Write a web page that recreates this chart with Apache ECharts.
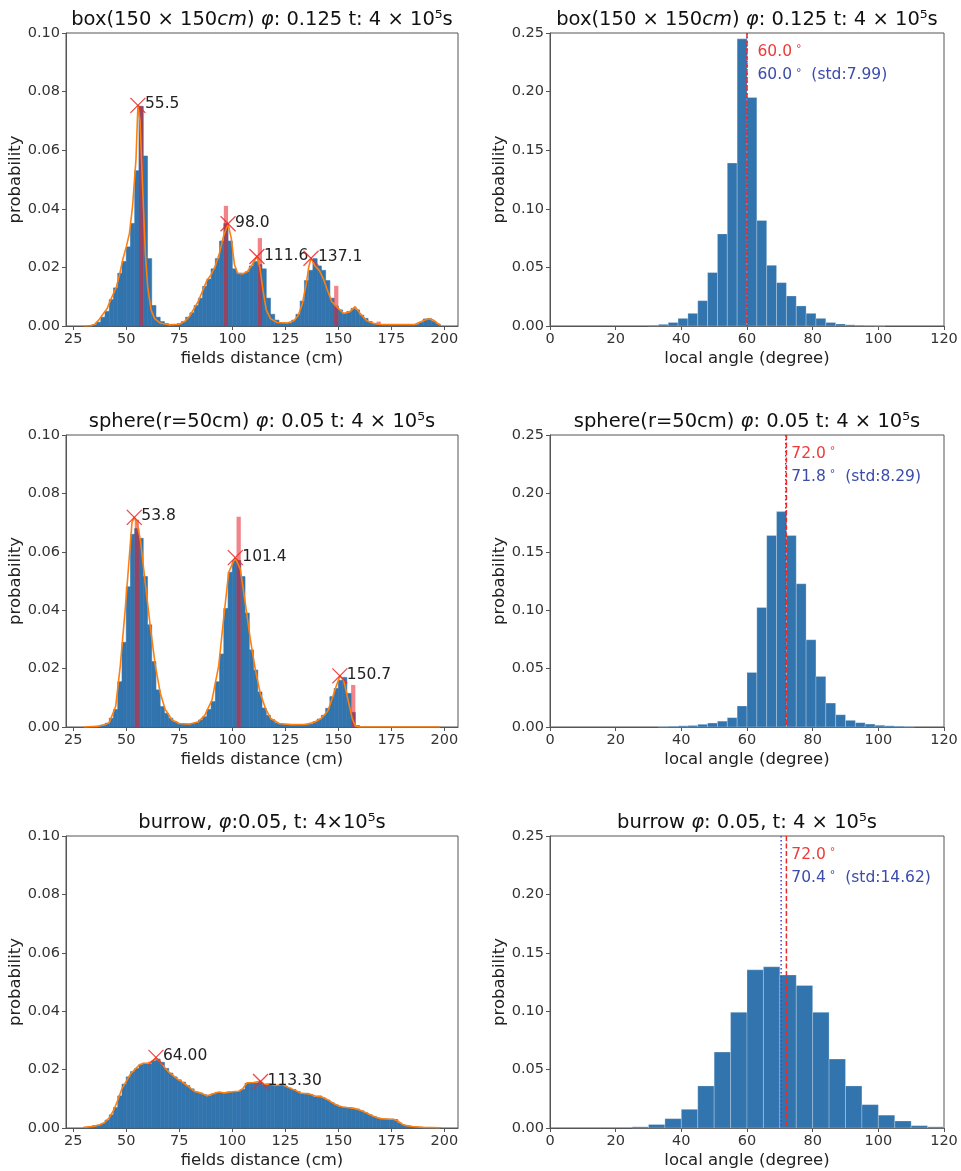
<!DOCTYPE html>
<html>
<head>
<meta charset="utf-8">
<script src="https://cdn.jsdelivr.net/npm/echarts@6/dist/echarts.min.js"></script>
<style>
html, body { margin: 0; padding: 0; background: #fff; }
#chart { width: 961px; height: 1171px; }
</style>
</head>
<body>
<div id="chart"></div>
<script>
// ---------- fields distance histograms (bins of 2 cm starting at 30 cm) ----------
const distBinStart = 30;
const distBinWidth = 2;
const distTicks = [25, 50, 75, 100, 125, 150, 175, 200];

const boxDistProb = [
  0, 0.0001, 0.0004, 0.0013, 0.003, 0.005, 0.009, 0.013, 0.018, 0.022,
  0.027, 0.035, 0.053, 0.075, 0.058, 0.023, 0.007, 0.003, 0.0015, 0.0008,
  0.0005, 0.0005, 0.0008, 0.0015, 0.003, 0.0045, 0.007, 0.0095, 0.0135, 0.016,
  0.0195, 0.023, 0.029, 0.035, 0.029, 0.0195, 0.018, 0.018, 0.0185, 0.0205,
  0.022, 0.021, 0.0195, 0.0095, 0.004, 0.002, 0.001, 0.001, 0.001, 0.002,
  0.004, 0.0085, 0.0155, 0.019, 0.023, 0.0205, 0.019, 0.0155, 0.0095, 0.0068,
  0.0055, 0.0043, 0.005, 0.006, 0.0055, 0.0037, 0.0026, 0.0015, 0.0008, 0.0005,
  0.0004, 0.0004, 0.0004, 0.0004, 0.0004, 0.0004, 0.0004, 0.0004, 0.0005, 0.0012,
  0.0024, 0.0025, 0.0016, 0.0007
];
const boxDistCurve = [
  [30, 0], [33, 0.0001], [35, 0.0005], [37, 0.002], [39, 0.004], [41, 0.006], [43, 0.0095],
  [45.4, 0.0134], [47, 0.018], [48.3, 0.0225], [50, 0.027], [51.5, 0.0316], [53, 0.041],
  [54.6, 0.057], [55.5, 0.0753], [56.5, 0.07], [57.7, 0.0475], [59, 0.0248], [60.1, 0.0134],
  [61.7, 0.0055], [63.3, 0.0026], [66, 0.001], [70, 0.0004], [75, 0.0006], [78, 0.0018],
  [80, 0.0035], [82, 0.006], [84, 0.0085], [86, 0.012], [88, 0.0155], [90, 0.0175],
  [92, 0.0205], [94, 0.025], [96, 0.031], [98, 0.0349], [99.5, 0.03], [101, 0.021],
  [102.5, 0.018], [105, 0.0178], [107, 0.0185], [109, 0.0205], [111.6, 0.0237], [113, 0.02],
  [114.5, 0.012], [116, 0.0055], [118, 0.0025], [121, 0.0012], [126, 0.001], [129, 0.0018],
  [131, 0.0035], [133, 0.0075], [135, 0.015], [136, 0.02], [137.1, 0.0231], [139, 0.0205],
  [141, 0.019], [143, 0.016], [144.5, 0.0129], [146.9, 0.0083], [149.2, 0.0066],
  [152.4, 0.0043], [155.5, 0.0049], [157.9, 0.0066], [160.2, 0.0043], [163.4, 0.0018],
  [166.5, 0.0009], [170, 0.0005], [186, 0.0005], [190, 0.0018], [192.4, 0.0025],
  [194.8, 0.002], [197.1, 0.0007], [198, 0.0003]
];
const boxPeakX = [55.5, 98.0, 111.6, 137.1];
const boxPeakY = [0.0753, 0.0349, 0.0237, 0.0231];
const boxPeakBinX = [57, 97, 113, 149, 169];
const boxPeakBinProb = [0.075, 0.041, 0.030, 0.0137, 0.0015];

const sphereDistProb = [
  0, 0, 0.0001, 0.0003, 0.0007, 0.0013, 0.003, 0.006, 0.0155, 0.029,
  0.048, 0.066, 0.068, 0.0646, 0.0515, 0.035, 0.0224, 0.0127, 0.007, 0.0047,
  0.003, 0.0018, 0.0012, 0.001, 0.001, 0.0012, 0.0015, 0.0024, 0.0035, 0.006,
  0.0087, 0.0155, 0.025, 0.0406, 0.053, 0.057, 0.057, 0.0515, 0.039, 0.0264,
  0.0195, 0.012, 0.0065, 0.004, 0.0025, 0.0014, 0.001, 0.0008, 0.0008, 0.0008,
  0.0008, 0.0008, 0.001, 0.001, 0.0018, 0.0027, 0.004, 0.0064, 0.0104, 0.0132,
  0.016, 0.017, 0.0115, 0.005, 0.0005, 0, 0, 0, 0, 0,
  0, 0, 0, 0, 0, 0, 0, 0, 0, 0,
  0, 0, 0, 0
];
const sphereDistCurve = [
  [30, 0], [36, 0.0002], [40, 0.0008], [42, 0.0015], [45, 0.007], [47.2, 0.021],
  [49.6, 0.041], [51.2, 0.056], [52.7, 0.07], [53.8, 0.0718], [55, 0.07], [56.7, 0.064],
  [59, 0.049], [61.4, 0.034], [63.7, 0.021], [66.1, 0.0115], [68.4, 0.006], [71.6, 0.0024],
  [75, 0.0012], [80, 0.001], [84, 0.0018], [87, 0.004], [90.4, 0.0092], [93.6, 0.021],
  [95.9, 0.037], [98.3, 0.053], [100.7, 0.057], [101.4, 0.058], [103.8, 0.054],
  [106.2, 0.042], [108.5, 0.03], [110.9, 0.0195], [113.2, 0.0115], [115.6, 0.0064],
  [118, 0.003], [122, 0.0012], [128, 0.0008], [135, 0.0009], [139, 0.0017], [142, 0.003],
  [145, 0.0055], [147, 0.0095], [149, 0.014], [150.7, 0.0175], [152.5, 0.016],
  [154.5, 0.0095], [156.5, 0.003], [158, 0.0003], [160, 0], [198, 0]
];
const spherePeakX = [53.8, 101.4, 150.7];
const spherePeakY = [0.0718, 0.058, 0.0175];
const spherePeakBinX = [55, 103, 157];
const spherePeakBinProb = [0.071, 0.072, 0.0144];

const burrowDistProb = [
  0.0002, 0.0005, 0.0008, 0.001, 0.0015, 0.0027, 0.0045, 0.007, 0.011, 0.015,
  0.0175, 0.0193, 0.0204, 0.0218, 0.0221, 0.0219, 0.023, 0.0236, 0.0225, 0.0204,
  0.0188, 0.0175, 0.0165, 0.0157, 0.0145, 0.0134, 0.0123, 0.012, 0.0114, 0.011,
  0.0117, 0.0122, 0.0121, 0.0119, 0.0123, 0.0124, 0.0125, 0.0132, 0.0153, 0.0155,
  0.0154, 0.0156, 0.0148, 0.015, 0.0147, 0.0145, 0.015, 0.0143, 0.0137, 0.0132,
  0.0125, 0.0117, 0.0119, 0.0115, 0.0107, 0.011, 0.0103, 0.0096, 0.0087, 0.0079,
  0.0073, 0.0071, 0.007, 0.0068, 0.0065, 0.0059, 0.0052, 0.0045, 0.0039, 0.0034,
  0.0031, 0.0031, 0.003, 0.0029, 0.0017, 0.001, 0.0007, 0.0005, 0.0003, 0.0002,
  0.0001, 0.0001, 0.0001, 0.0001
];
const burrowDistCurve = [
  [30, 0.0002], [35, 0.0006], [38, 0.0012], [40, 0.002], [42, 0.0035], [44, 0.006],
  [46, 0.0095], [48, 0.0135], [50, 0.016], [52, 0.0185], [54, 0.02], [56, 0.0215],
  [58, 0.0222], [60, 0.0222], [62, 0.0228], [64, 0.0238], [66, 0.0228], [68, 0.0208],
  [70, 0.0192], [72, 0.018], [74, 0.0168], [76, 0.016], [78, 0.0149], [80, 0.0138],
  [82, 0.0126], [84, 0.0122], [86, 0.0117], [88, 0.011], [90, 0.0115], [92, 0.012],
  [94, 0.0123], [96, 0.012], [98, 0.0123], [100, 0.0124], [103, 0.0126], [105, 0.0135],
  [107, 0.0155], [110, 0.0156], [113.3, 0.016], [115, 0.015], [118, 0.0151], [120, 0.0146],
  [122, 0.0147], [124, 0.0149], [126, 0.014], [128, 0.0134], [130, 0.0128], [132, 0.012],
  [134, 0.0118], [136, 0.0117], [138, 0.0112], [140, 0.0108], [142, 0.0107], [144, 0.01],
  [146, 0.0092], [148, 0.0083], [150, 0.0076], [152, 0.0072], [154, 0.007], [156, 0.0069],
  [158, 0.0066], [160, 0.0062], [162, 0.0056], [164, 0.0049], [166, 0.0042], [168, 0.0036],
  [170, 0.0032], [172, 0.0031], [174, 0.003], [176, 0.003], [178, 0.0024], [180, 0.0013],
  [182, 0.0008], [185, 0.0005], [190, 0.0002], [198, 0.0001]
];
const burrowPeakX = [64.0, 113.3];
const burrowPeakY = [0.0242, 0.0159];

// ---------- local angle histograms ----------
const boxAngleBinWidth = 3;
const boxAngleProb = [
  0, 0, 0, 0, 0, 0, 0, 0, 0, 0,
  0.0006, 0.0014, 0.003, 0.0065, 0.0108, 0.0216, 0.0456, 0.0786, 0.139, 0.245,
  0.195, 0.090, 0.0518, 0.037, 0.0256, 0.0171, 0.0108, 0.0065, 0.003, 0.0017,
  0.001, 0.0006, 0.0004, 0.0002, 0, 0, 0, 0, 0, 0
];
const boxAnglePeak = 60.0, boxAngleMean = 60.0, boxAngleStd = 7.99;

const sphereAngleBinWidth = 3;
const sphereAngleProb = [
  0, 0, 0, 0, 0, 0, 0, 0, 0, 0,
  0, 0.0003, 0.0006, 0.001, 0.0013, 0.0023, 0.0034, 0.005, 0.008, 0.018,
  0.0467, 0.1023, 0.164, 0.1844, 0.164, 0.1226, 0.0747, 0.0433, 0.0205, 0.0105,
  0.0057, 0.0037, 0.0025, 0.0015, 0.001, 0.0006, 0.0003, 0, 0, 0
];
const sphereAnglePeak = 72.0, sphereAngleMean = 71.8, sphereAngleStd = 8.29;

const burrowAngleBinWidth = 5;
const burrowAngleProb = [
  0, 0, 0, 0, 0, 0.001, 0.003, 0.008, 0.016, 0.036,
  0.065, 0.099, 0.1354, 0.138, 0.131, 0.122, 0.099, 0.059, 0.036, 0.020,
  0.011, 0.006, 0.002, 0.001
];
const burrowAnglePeak = 72.0, burrowAngleMean = 70.4, burrowAngleStd = 14.62;

// ---------- layout & style ----------
const FONT = 'DejaVu Sans';
const BLUE = '#3274ad';
const ORANGE = '#ff7f0e';
const RED_BAR = 'rgba(230, 30, 40, 0.55)';
const RED_MARK = 'rgba(236, 40, 40, 0.85)';
const RED_TEXT = '#ee3a3a';
const BLUE_TEXT = '#3b4cab';
const AXIS_COLOR = '#555';

const colX = [66, 550];
const colW = [392, 394];
const rowTop = [33, 435, 836];
const rowH = [293, 292, 292];
const titleY = [20, 422, 823];

const grids = [];
for (let r = 0; r < 3; r++) {
  for (let c = 0; c < 2; c++) {
    grids.push({
      left: colX[c], top: rowTop[r], width: colW[c], height: rowH[r],
      show: true, borderColor: AXIS_COLOR, borderWidth: 1, backgroundColor: 'transparent',
      containLabel: false
    });
  }
}

const tickLabelStyle = { fontFamily: FONT, fontSize: 14.5, color: '#333', margin: 6 };
const nameStyle = { fontFamily: FONT, fontSize: 16.5, color: '#222' };

function xAxisDist(gi) {
  return {
    gridIndex: gi, type: 'value', min: 21.6, max: 206.4,
    name: 'fields distance (cm)', nameLocation: 'middle', nameGap: 24, nameTextStyle: nameStyle,
    axisLine: { show: true, lineStyle: { color: AXIS_COLOR, width: 1 } },
    axisTick: { show: true, length: 4, lineStyle: { color: AXIS_COLOR }, customValues: distTicks },
    axisLabel: Object.assign({ customValues: distTicks }, tickLabelStyle),
    splitLine: { show: false }
  };
}
function xAxisAngle(gi) {
  return {
    gridIndex: gi, type: 'value', min: 0, max: 120, interval: 20,
    name: 'local angle (degree)', nameLocation: 'middle', nameGap: 24, nameTextStyle: nameStyle,
    axisLine: { show: true, lineStyle: { color: AXIS_COLOR, width: 1 } },
    axisTick: { show: true, length: 4, lineStyle: { color: AXIS_COLOR } },
    axisLabel: tickLabelStyle,
    splitLine: { show: false }
  };
}
function yAxisProb(gi, max, interval) {
  return {
    gridIndex: gi, type: 'value', min: 0, max: max, interval: interval,
    name: 'probability', nameLocation: 'middle', nameGap: 35, nameTextStyle: nameStyle,
    axisLine: { show: true, lineStyle: { color: AXIS_COLOR, width: 1 } },
    axisTick: { show: true, length: 4, lineStyle: { color: AXIS_COLOR } },
    axisLabel: Object.assign({ formatter: v => v.toFixed(2) }, tickLabelStyle),
    splitLine: { show: false }
  };
}

const xAxes = [], yAxes = [];
for (let r = 0; r < 3; r++) {
  xAxes.push(xAxisDist(r * 2));
  yAxes.push(yAxisProb(r * 2, 0.1, 0.02));
  xAxes.push(xAxisAngle(r * 2 + 1));
  yAxes.push(yAxisProb(r * 2 + 1, 0.25, 0.05));
}

// ---------- series builders ----------
function histData(start, width, probs) {
  return probs.map((p, i) => [start + i * width, start + (i + 1) * width, p]);
}
function rectRenderer(fill, stroke, lineWidth) {
  return function (params, api) {
    const y = api.value(2);
    if (!(y > 0)) return null;
    const a = api.coord([api.value(0), y]);
    const b = api.coord([api.value(1), 0]);
    const style = { fill: fill };
    if (stroke) { style.stroke = stroke; style.lineWidth = lineWidth; }
    return {
      type: 'rect',
      shape: { x: a[0], y: a[1], width: b[0] - a[0], height: b[1] - a[1] },
      style: style
    };
  };
}
function histSeries(gi, start, width, probs, fill, stroke, lineWidth, z) {
  return {
    type: 'custom', xAxisIndex: gi, yAxisIndex: gi, z: z, silent: true,
    encode: { x: [0, 1], y: 2 },
    renderItem: rectRenderer(fill, stroke, lineWidth),
    data: histData(start, width, probs)
  };
}
function curveSeries(gi, pts) {
  return {
    type: 'line', xAxisIndex: gi, yAxisIndex: gi, z: 4, silent: true,
    showSymbol: false, symbol: 'none', smooth: false,
    lineStyle: { color: ORANGE, width: 1.6 },
    data: pts
  };
}
function peakSeries(gi, xs, ys, digits) {
  const labels = xs.map(v => v.toFixed(digits));
  return {
    type: 'custom', xAxisIndex: gi, yAxisIndex: gi, z: 6, silent: true,
    encode: { x: 0, y: 1 },
    renderItem: function (params, api) {
      const p = api.coord([api.value(0), api.value(1)]);
      const s = 7.5;
      const st = { stroke: RED_MARK, lineWidth: 1.3 };
      return {
        type: 'group',
        children: [
          { type: 'line', shape: { x1: p[0] - s, y1: p[1] - s, x2: p[0] + s, y2: p[1] + s }, style: st },
          { type: 'line', shape: { x1: p[0] - s, y1: p[1] + s, x2: p[0] + s, y2: p[1] - s }, style: st },
          {
            type: 'text', x: p[0] + 7, y: p[1] - 1,
            style: {
              text: labels[params.dataIndex], fill: '#222',
              fontFamily: FONT, fontSize: 15.5, align: 'left', verticalAlign: 'middle'
            }
          }
        ]
      };
    },
    data: xs.map((x, i) => [x, ys[i]])
  };
}
function vlineSeries(gi, x, yTop, color, dash, z) {
  return {
    type: 'custom', xAxisIndex: gi, yAxisIndex: gi, z: z, silent: true,
    encode: { x: 0, y: 1 },
    renderItem: function (params, api) {
      const t = api.coord([api.value(0), api.value(1)]);
      const b = api.coord([api.value(0), 0]);
      return {
        type: 'line',
        shape: { x1: t[0], y1: t[1], x2: b[0], y2: b[1] },
        style: { stroke: color, lineWidth: 1.5, lineDash: dash }
      };
    },
    data: [[x, yTop]]
  };
}
function annotationSeries(gi, textX, peak, mean, std) {
  const base = { fontFamily: FONT, fontSize: 15.5 };
  const texts = [
    '{r|' + peak.toFixed(1) + '}{rd|°}',
    '{b|' + mean.toFixed(1) + '}{bd|°}{b|  (std:' + std.toFixed(2) + ')}'
  ];
  const rich = {
    r: Object.assign({ fill: RED_TEXT }, base),
    rd: { fill: RED_TEXT, fontFamily: FONT, fontSize: 11, verticalAlign: 'top', padding: [0, 0, 0, 4] },
    b: Object.assign({ fill: BLUE_TEXT }, base),
    bd: { fill: BLUE_TEXT, fontFamily: FONT, fontSize: 11, verticalAlign: 'top', padding: [0, 0, 0, 4] }
  };
  return {
    type: 'custom', xAxisIndex: gi, yAxisIndex: gi, z: 7, silent: true,
    encode: { x: 0, y: 1 },
    renderItem: function (params, api) {
      const p = api.coord([api.value(0), api.value(1)]);
      return {
        type: 'text', x: p[0], y: p[1],
        style: {
          text: texts[params.dataIndex], rich: rich,
          fontFamily: FONT, fontSize: 15.5, align: 'left', verticalAlign: 'middle'
        }
      };
    },
    data: [[textX, 0.234], [textX, 0.214]]
  };
}

const series = [];

// left column: fields distance (bars outlined in their own colour so neighbours join seamlessly)
const distPanels = [
  { gi: 0, prob: boxDistProb, curve: boxDistCurve, px: boxPeakX, py: boxPeakY, digits: 1, rx: boxPeakBinX, ry: boxPeakBinProb },
  { gi: 2, prob: sphereDistProb, curve: sphereDistCurve, px: spherePeakX, py: spherePeakY, digits: 1, rx: spherePeakBinX, ry: spherePeakBinProb },
  { gi: 4, prob: burrowDistProb, curve: burrowDistCurve, px: burrowPeakX, py: burrowPeakY, digits: 2, rx: [], ry: [] }
];
distPanels.forEach(p => {
  series.push(histSeries(p.gi, distBinStart, distBinWidth, p.prob, BLUE, BLUE, 0.6, 2));
  if (p.rx.length) {
    series.push({
      type: 'custom', xAxisIndex: p.gi, yAxisIndex: p.gi, z: 3, silent: true,
      encode: { x: [0, 1], y: 2 },
      renderItem: rectRenderer(RED_BAR, null, 0),
      data: p.rx.map((c, i) => [c - distBinWidth / 2, c + distBinWidth / 2, p.ry[i]])
    });
  }
  series.push(curveSeries(p.gi, p.curve));
  series.push(peakSeries(p.gi, p.px, p.py, p.digits));
});

// right column: local angle
const anglePanels = [
  { gi: 1, prob: boxAngleProb, width: boxAngleBinWidth, peak: boxAnglePeak, mean: boxAngleMean, std: boxAngleStd, textX: 63.2 },
  { gi: 3, prob: sphereAngleProb, width: sphereAngleBinWidth, peak: sphereAnglePeak, mean: sphereAngleMean, std: sphereAngleStd, textX: 73.5 },
  { gi: 5, prob: burrowAngleProb, width: burrowAngleBinWidth, peak: burrowAnglePeak, mean: burrowAngleMean, std: burrowAngleStd, textX: 73.5 }
];
anglePanels.forEach(p => {
  series.push(histSeries(p.gi, 0, p.width, p.prob, BLUE, 'rgba(255,255,255,0.35)', 0.7, 2));
  series.push(vlineSeries(p.gi, p.mean, 0.25, '#3a4cc4', [1.5, 2.5], 4));
  series.push(vlineSeries(p.gi, p.peak, 0.25, '#ec2a2a', [5, 2.5], 5));
  series.push(annotationSeries(p.gi, p.textX, p.peak, p.mean, p.std));
});

// ---------- panel titles ----------
const titleStyleBase = { fontFamily: FONT, fontSize: 19.5, fill: '#111' };
const titleRich = { i: { fontFamily: FONT, fontSize: 19.5, fontStyle: 'italic', fill: '#111' } };
const titles = [
  'box(150 × 150{i|cm}) {i|φ}: 0.125 t: 4 × 10⁵s',
  'box(150 × 150{i|cm}) {i|φ}: 0.125 t: 4 × 10⁵s',
  'sphere(r=50cm) {i|φ}: 0.05 t: 4 × 10⁵s',
  'sphere(r=50cm) {i|φ}: 0.05 t: 4 × 10⁵s',
  'burrow, {i|φ}:0.05, t: 4×10⁵s',
  'burrow {i|φ}: 0.05, t: 4 × 10⁵s'
];
const graphic = titles.map((t, i) => {
  const r = Math.floor(i / 2), c = i % 2;
  return {
    type: 'text', x: colX[c] + colW[c] / 2, y: titleY[r], silent: true,
    style: Object.assign({ text: t, rich: titleRich, align: 'center', verticalAlign: 'middle' }, titleStyleBase)
  };
});

const chart = echarts.init(document.getElementById('chart'), null, { renderer: 'canvas' });
chart.setOption({
  animation: false,
  backgroundColor: '#ffffff',
  grid: grids,
  xAxis: xAxes,
  yAxis: yAxes,
  series: series,
  graphic: graphic
});
</script>
</body>
</html>
